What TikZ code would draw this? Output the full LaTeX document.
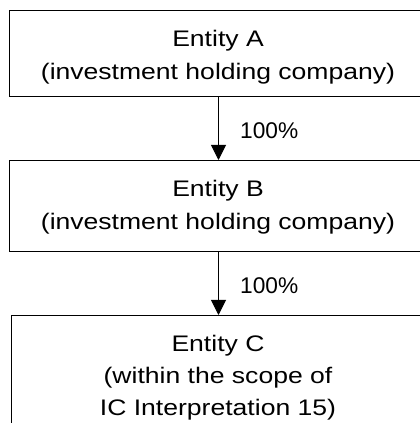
\documentclass[tikz,border=0pt]{standalone}
\usepackage{fontspec}
\setmainfont{Liberation Sans}
\newfontfamily\boxfont[FakeStretch=1.18]{Liberation Sans}
\usetikzlibrary{arrows.meta}
\begin{document}
\begin{tikzpicture}[x=1pt,y=1pt,
  entbox/.style={draw=black, line width=1pt, fill=white, inner sep=0pt, anchor=south west},
  entlabel/.style={font=\boxfont\fontsize{22.5}{33}\selectfont, align=center, inner sep=0pt, anchor=base},
  pct/.style={font=\fontsize{22.7}{27}\selectfont, inner sep=0pt, anchor=base west},
  own/.style={-{Triangle[length=15pt,width=15pt]}, line width=1pt}]
\useasboundingbox (0,0) rectangle (420,423);
\clip (0,0) rectangle (420,423);
\node[entbox, minimum width=418pt, minimum height=86pt] (A) at (9,326) {};
\node[entbox, minimum width=418pt, minimum height=91pt] (B) at (9,171) {};
\node[entbox, minimum width=414pt, minimum height=127pt] (C) at (11,-20) {};
\node[entlabel] (tA) at (218,343.5) {Entity A\\(investment holding company)};
\node[entlabel] (tB) at (218,193.5) {Entity B\\(investment holding company)};
\node[entlabel] (tC) at (218,8) {Entity C\\[-1.5pt](within the scope of\\[-1.5pt]IC Interpretation 15)};
\draw[own] (A.south) -- (B.north);
\draw[own] (B.south) -- (C.north);
\node[pct] (p1) at (240,284.7) {100\%};
\node[pct] (p2) at (240,129.7) {100\%};
\end{tikzpicture}
\end{document}
